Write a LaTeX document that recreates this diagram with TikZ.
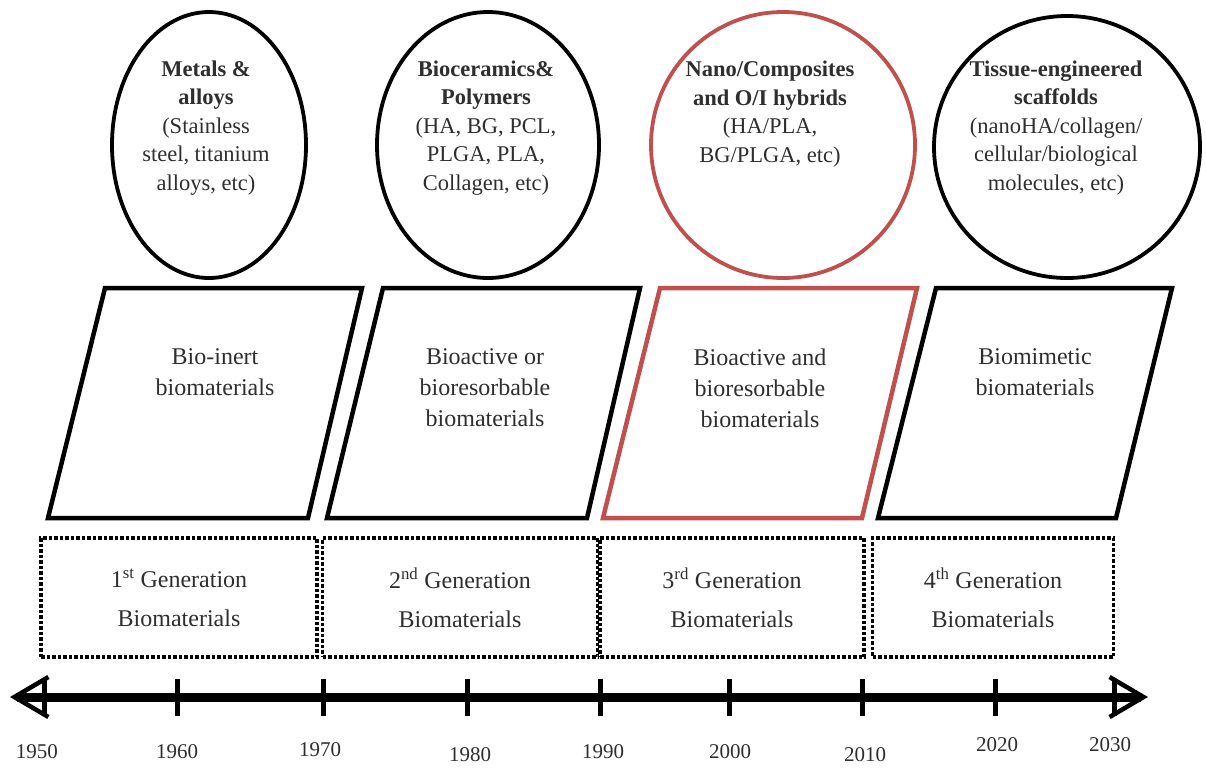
\documentclass[tikz,border=0pt]{standalone}
\usepackage{fontspec}
\setmainfont{Liberation Serif}
\usetikzlibrary{shapes.geometric,arrows.meta}
\definecolor{hired}{HTML}{C0504D}
\definecolor{ink}{HTML}{2E2E2E}

\begin{document}
\begin{tikzpicture}[x=1pt, y=-1pt,
	era/.style={ellipse, draw, line width=3.8pt, inner sep=0pt},
	etext/.style={align=center, text=ink, font=\fontsize{22.5}{28.5}\selectfont},
	para/.style={draw, line width=4.5pt, line join=miter},
	ptext/.style={align=center, text=ink, font=\fontsize{24}{31}\selectfont},
	genbox/.style={draw, dotted, line width=3.5pt, minimum height=119pt, inner sep=0pt,
		align=center, text=ink, font=\fontsize{24}{39}\selectfont},
	year/.style={text=ink, font=\fontsize{21}{21}\selectfont}]
	\useasboundingbox (0,0) rectangle (1206,769);

	% material classes
	\node[era, minimum width=194pt, minimum height=266pt] (e1) at (209,145) {};
	\node[era, minimum width=222pt, minimum height=266pt] (e2) at (488,145) {};
	\node[era, draw=hired, minimum width=264pt, minimum height=266pt] (e3) at (783,145) {};
	\node[era, minimum width=266pt, minimum height=262pt] (e4) at (1067,147) {};
	\node[etext] (m1) at (206,128) {\textbf{Metals \&}\\\textbf{alloys}\\(Stainless\\steel, titanium\\alloys, etc)};
	\node[etext] (m2) at (486,128) {\textbf{Bioceramics\&}\\\textbf{Polymers}\\(HA, BG, PCL,\\PLGA, PLA,\\Collagen, etc)};
	\node[etext] (m3) at (770,114) {\textbf{Nano/Composites}\\\textbf{and O/I hybrids}\\(HA/PLA,\\BG/PLGA, etc)};
	\node[etext] (m4) at (1056,128) {\textbf{Tissue-engineered}\\\textbf{scaffolds}\\(nanoHA/collagen/\\cellular/biological\\molecules, etc)};

	% properties
	\draw[para] (105,288) -- (362,288) -- (308,518) -- (48,518) -- cycle;
	\draw[para] (383,288) -- (640,288) -- (587,518) -- (327,518) -- cycle;
	\draw[para, draw=hired] (660,288) -- (917,288) -- (862,518) -- (603,518) -- cycle;
	\draw[para] (936,288) -- (1172,288) -- (1116,518) -- (878,518) -- cycle;
	\node[ptext] (p1) at (215,372) {Bio-inert\\biomaterials};
	\node[ptext] (p2) at (485,388) {Bioactive or\\bioresorbable\\biomaterials};
	\node[ptext] (p3) at (760,388) {Bioactive and\\bioresorbable\\biomaterials};
	\node[ptext] (p4) at (1035,372) {Biomimetic\\biomaterials};

	% generations
	\node[genbox, minimum width=276pt] (g1) at (179,597.5) {1\textsuperscript{st} Generation\\Biomaterials};
	\node[genbox, minimum width=275pt] (g2) at (460,597.5) {2\textsuperscript{nd} Generation\\Biomaterials};
	\node[genbox, minimum width=264pt] (g3) at (732,597.5) {3\textsuperscript{rd} Generation\\Biomaterials};
	\node[genbox, minimum width=241pt] (g4) at (993,597.5) {4\textsuperscript{th} Generation\\Biomaterials};

	% time axis
	\coordinate (tl) at (10,697);
	\coordinate (tr) at (1148,697);
	\draw[line width=9pt, {Straight Barb[length=34pt, width=40pt, line width=4.5pt]}-{Straight Barb[length=34pt, width=40pt, line width=4.5pt]}] (tl) -- (tr);
	\foreach \x in {44,177,323,467,600,729,862,995,1114}
		\draw[line width=5pt] (\x,679) -- (\x,716);
	\foreach \yr/\x/\y in {1950/37/752, 1960/177/752, 1970/320/750, 1980/470/755, 1990/603/752,
		2000/730/752, 2010/865/755, 2020/997/745, 2030/1110/745}
		\node[year] (y\yr) at (\x,\y) {\yr};
\end{tikzpicture}
\end{document}
